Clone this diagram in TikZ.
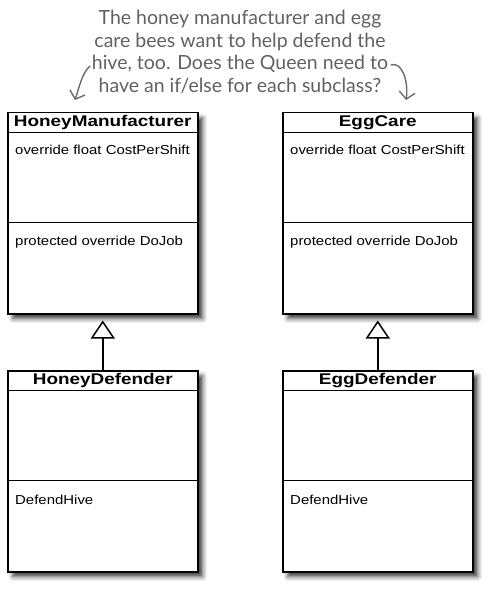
\documentclass[tikz,border=0pt]{standalone}
\usepackage{fontspec}
\usepackage{graphicx}
\setmainfont{Liberation Sans}
\newfontfamily\notefont{Lato}
\usetikzlibrary{arrows.meta,shadows.blur,calc}
\begin{document}
\begin{tikzpicture}[x=1pt,y=-1pt,
  classbox/.style={draw=black, line width=1.5pt, fill=white,
    minimum width=190pt, minimum height=201pt, anchor=north west, inner sep=0pt,
    blur shadow={shadow xshift=5pt, shadow yshift=-5pt, shadow blur radius=4.5pt, shadow opacity=75}},
  titletext/.style={inner sep=0pt, font=\fontsize{15.5}{17}\selectfont\bfseries},
  member/.style={inner sep=0pt, anchor=west, font=\fontsize{13}{15}\selectfont},
  rule/.style={line width=1.5pt},
  inherit/.style={line width=1.5pt, shorten >=6pt,
    -{Triangle[open, length=18pt, width=24pt, line width=1.5pt]}},
  notetext/.style={inner sep=0pt, align=center, text=black!62,
    font=\notefont\fontsize{19.5}{22.5}\selectfont},
  notearrow/.style={draw=black!58, line width=1.4pt, line cap=round,
    -{Straight Barb[length=7pt, width=16pt, line width=1.4pt]}}
]
\useasboundingbox (0,0) rectangle (494,593);

% annotation
\node[notetext] (note) at (240,52) {The honey manufacturer and egg\\care bees want to help defend the\\hive, too. Does the Queen need to\\have an if/else for each subclass?};
\coordinate (la) at (90,66);
\coordinate (lb) at (75,100);
\coordinate (ra) at (391,65);
\coordinate (rb) at (406,100);
\draw[notearrow] (la) .. controls (82,73) and (79,88) .. (lb);
\draw[notearrow] (ra) .. controls (401,61) and (409,80) .. (rb);

% classes
\node[classbox] (hm) at (7,112) {};
\node[classbox] (ec) at (282,112) {};
\node[classbox] (hd) at (7,370) {};
\node[classbox] (ed) at (282,370) {};

\foreach \c/\t/\a/\b in {hm/HoneyManufacturer/override float CostPerShift/protected override DoJob,
                         ec/EggCare/override float CostPerShift/protected override DoJob,
                         hd/HoneyDefender//DefendHive,
                         ed/EggDefender//DefendHive}{
  \node[titletext] (\c-title) at ($(\c.north)+(0,10.5)$) {\scalebox{1.22}[1]{\t}};
  \draw[rule] ($(\c.north west)+(0,20.5)$) -- ($(\c.north east)+(0,20.5)$);
  \draw[rule] ($(\c.north west)+(0,110.5)$) -- ($(\c.north east)+(0,110.5)$);
  \node[member] (\c-attr) at ($(\c.north west)+(8,38)$) {\scalebox{1.15}[1]{\a}};
  \node[member] (\c-op) at ($(\c.north west)+(8,130)$) {\scalebox{1.15}[1]{\b}};
}

% inheritance
\draw[inherit] (hd.north) -- (hm.south);
\draw[inherit] (ed.north) -- (ec.south);
\end{tikzpicture}
\end{document}
